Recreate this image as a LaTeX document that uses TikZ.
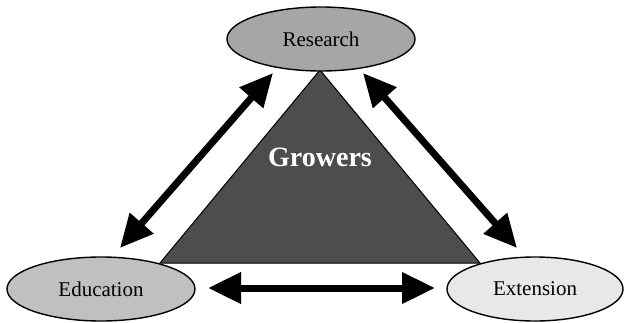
\documentclass[tikz,border=0pt]{standalone}
\usepackage{fontspec}
\setmainfont{Liberation Serif}
\usetikzlibrary{shapes.geometric,arrows.meta}
\definecolor{researchfill}{RGB}{166,166,166}
\definecolor{educationfill}{RGB}{192,192,192}
\definecolor{extensionfill}{RGB}{232,232,232}
\definecolor{growerfill}{RGB}{77,77,77}
\tikzset{
  partner/.style={ellipse, draw=black, line width=1.4pt, inner sep=0pt,
    minimum width=188pt, minimum height=64pt, font=\fontsize{21}{24}\selectfont},
  link/.style={line width=7pt, {Triangle[length=33pt,width=30pt]}-{Triangle[length=33pt,width=30pt]}},
}
\begin{document}
\begin{tikzpicture}[x=1pt,y=-1pt]
  \useasboundingbox (0,0) rectangle (624,322);
  % central triangle
  \coordinate (apex) at (320,70);
  \coordinate (baseL) at (160,263);
  \coordinate (baseR) at (480,263);
  \filldraw[fill=growerfill, draw=black, line width=1pt] (apex) -- (baseL) -- (baseR) -- cycle;
  \node[text=white, font=\bfseries\fontsize{28}{32}\selectfont] (growers) at (320,157) {Growers};
  % partner ellipses
  \node[partner, fill=researchfill] (research) at (321,39) {Research};
  \node[partner, fill=educationfill] (education) at (101,289) {Education};
  \node[partner, fill=extensionfill, minimum width=176pt] (extension) at (535,289) {Extension};
  % arrow ends
  \coordinate (lu) at (273,73);
  \coordinate (ll) at (120,248);
  \coordinate (ru) at (363,73);
  \coordinate (rl) at (517,248);
  \coordinate (bl) at (208,288);
  \coordinate (br) at (435,288);
  \draw[link] (ll) -- (lu);
  \draw[link] (ru) -- (rl);
  \draw[link] (bl) -- (br);
\end{tikzpicture}
\end{document}
